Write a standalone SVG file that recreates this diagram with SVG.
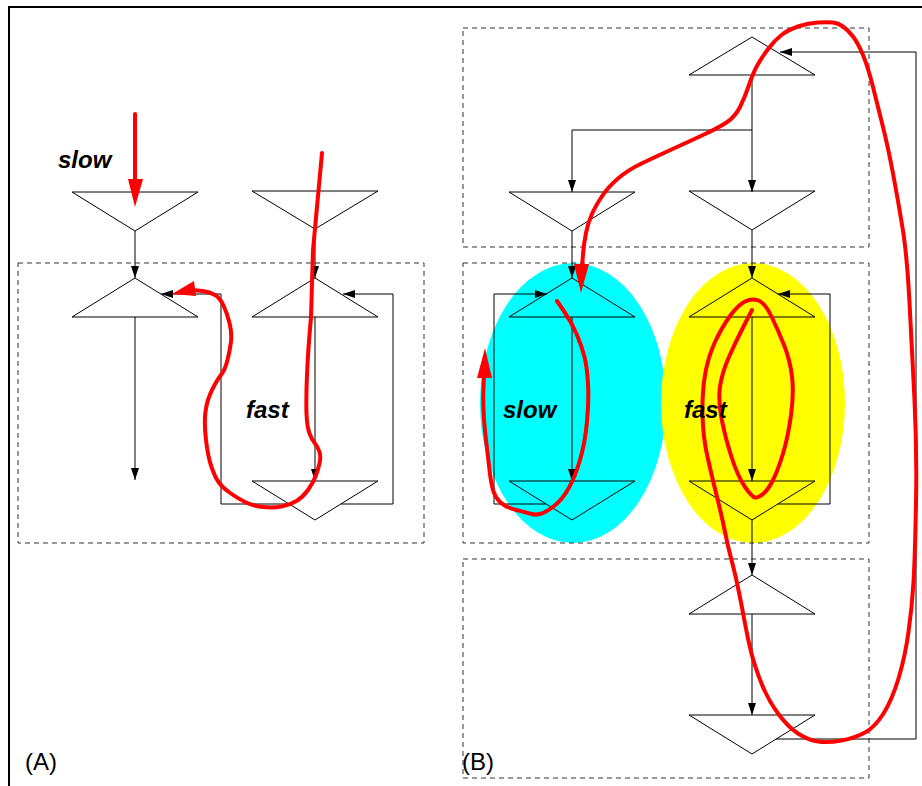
<svg xmlns="http://www.w3.org/2000/svg" width="922" height="786" viewBox="0 0 922 786">
<style>
.tri{fill:none;stroke:#000;stroke-width:1}
.box{fill:none;stroke:#333;stroke-width:1;stroke-dasharray:5,4}
.con{fill:none;stroke:#000;stroke-width:1}
.arr{marker-end:url(#ah)}
.red{fill:none;stroke:#ff0000;stroke-width:4;stroke-linejoin:round;stroke-linecap:round}
.redh{fill:#ff0000;stroke:none}
.lbl{font-family:"Liberation Sans",Arial,sans-serif;font-size:24px;font-weight:bold;font-style:italic;fill:#000}
.cap{font-family:"Liberation Sans",Arial,sans-serif;font-size:24px;fill:#000}
</style>
<defs>
<marker id="ah" markerUnits="userSpaceOnUse" markerWidth="12" markerHeight="8" refX="12" refY="4" orient="auto">
<path d="M0,0 L12,4 L0,8 z" fill="#000"/>
</marker>
</defs>
<rect width="922" height="786" fill="#fff"/>
<path d="M9,786 V7 H922" fill="none" stroke="#000" stroke-width="2"/>

<g id="regions">
<ellipse cx="573" cy="403" rx="93" ry="140" fill="#00ffff"/>
<ellipse cx="753" cy="403" rx="92" ry="140" fill="#ffff00"/>
<rect class="box" x="18" y="263" width="406" height="280"/>
<rect class="box" x="463" y="28" width="406" height="219"/>
<rect class="box" x="463" y="263" width="406" height="280"/>
<rect class="box" x="463" y="559" width="406" height="219"/>
</g>

<g id="a-top-left"><polygon class="tri" points="72,192 198,192 135,231"/></g>
<g id="a-top-right"><polygon class="tri" points="252,191 378,191 315,229"/></g>
<g id="a-mid-left"><polygon class="tri" points="135,278 198,317 72,317"/></g>
<g id="a-mid-right"><polygon class="tri" points="315,278 378,317 252,317"/></g>
<g id="a-low-right"><polygon class="tri" points="252,481 378,481 315,520"/></g>

<g id="b-top"><polygon class="tri" points="752,37 815,75 689,75"/></g>
<g id="b-up-left"><polygon class="tri" points="509,192 635,192 572,231"/></g>
<g id="b-up-right"><polygon class="tri" points="689,191 815,191 752,230"/></g>
<g id="b-mid-left"><polygon class="tri" points="572,278 635,317 509,317"/></g>
<g id="b-mid-right"><polygon class="tri" points="752,278 815,317 689,317"/></g>
<g id="b-low-left"><polygon class="tri" points="509,481 635,481 572,520"/></g>
<g id="b-low-right"><polygon class="tri" points="689,481 815,481 752,520"/></g>
<g id="b-bot-up"><polygon class="tri" points="752,575 815,614 689,614"/></g>
<g id="b-bot-down"><polygon class="tri" points="689,715 815,715 752,754"/></g>

<g id="connectors">
<path class="con arr" d="M135,231 V278"/>
<path class="con arr" d="M315,229 V278"/>
<path class="con arr" d="M135,317 V480"/>
<path class="con arr" d="M315,317 V481"/>
<path class="con arr" d="M289,504 H221 V294 H161"/>
<path class="con arr" d="M341,504 H393 V294 H343"/>
<path class="con arr" d="M752,75 V192"/>
<path class="con arr" d="M752,130 H572 V192"/>
<path class="con arr" d="M572,231 V278"/>
<path class="con arr" d="M752,230 V278"/>
<path class="con arr" d="M572,317 V481"/>
<path class="con arr" d="M752,317 V481"/>
<path class="con arr" d="M546,504 H494 V294 H547"/>
<path class="con arr" d="M778,504 H830 V294 H778"/>
<path class="con arr" d="M752,520 V575"/>
<path class="con arr" d="M752,614 V715"/>
<path class="con arr" d="M776,739 H916 V52 H780"/>
</g>

<g id="flows">
<path class="red" d="M135,114 V182"/>
<polygon class="redh" points="128,179 143,179 135,207"/>
<path class="red" d="M322,153 L313,250 L312,283 L311,317 Q308,350 307,375 Q306,400 306.5,413.5 Q307,427 309.5,433.5 Q312,440 315,443.5 Q318,447 319.5,452 Q321,457 319.5,463.5 Q318,470 315.5,476.5 Q313,483 308,490 Q303,497 296.5,501 Q290,505 281.5,506.5 Q273,508 263,507 Q253,506 245,502 Q237,498 229.5,492.5 Q222,487 218.5,482 Q215,477 211.5,467 Q208,457 206,440 Q204,423 205.5,411.5 Q207,400 212,390 Q217,380 221,375 Q225,370 227.5,360 Q230,350 231,341.5 Q232,333 229.5,323 Q227,313 223.5,305.5 Q220,298 215,295 Q210,292 202.5,291 L192,290"/>
<polygon class="redh" points="172,294 194,281 196,296"/>
<path class="red" d="M557,301 L564.5,312 Q572,323 577,335 Q582,347 584.5,357 Q587,367 588,383.5 Q589,400 587,421.5 Q585,443 580,460 Q575,477 568.5,488.5 Q562,500 553.5,506.5 Q545,513 540,514 Q535,515 531.5,514 Q528,513 516.5,510 Q505,507 500,502 Q495,497 493,490 Q491,483 489.5,470 Q488,457 486,440 Q484,423 483.5,410 Q483,397 483.5,387 L484,374"/>
<polygon class="redh" points="485,348 477,378 492,378"/>
<path class="red" d="M752,310 L743.5,326.5 Q735,343 728.5,358 Q722,373 720,386.5 Q718,400 721.5,418.5 Q725,437 731.5,457 Q738,477 745,487 Q752,497 755,497.5 Q758,498 763,494 Q768,490 773,480 Q778,470 783,453.5 Q788,437 791,415 Q794,393 792,376.5 Q790,360 784,345 Q778,330 771.5,316.5 Q765,303 758.5,300.5 Q752,298 745,301.5 Q738,305 730,316 Q722,327 715,342 Q708,357 705,375 Q702,393 702.5,415 Q703,437 707.5,457 Q712,477 717,497 Q722,517 725,532 Q728,547 731.5,560 Q735,573 738.5,590 Q742,607 745,623.5 Q748,640 751.5,653.5 Q755,667 761.5,683.5 Q768,700 778,713.5 Q788,727 798,733.5 Q808,740 818,741.5 Q828,743 841.5,740.5 Q855,738 865,732.5 Q875,727 883.5,713.5 Q892,700 898.5,678.5 Q905,657 908.5,632 Q912,607 913.5,582 Q915,557 916,503.5 Q917,450 914.5,400 Q912,350 909.5,302.5 Q907,255 902.5,227.5 Q898,200 893,173.5 Q888,147 883,127 Q878,107 873,87 Q868,67 863,55 Q858,43 853,36.5 Q848,30 843,26.5 Q838,23 833,22.5 Q828,22 818,22.5 Q808,23 798,26.5 Q788,30 781.5,35 Q775,40 768.5,48.5 Q762,57 757.5,65 Q753,73 749,85 Q745,97 740,107 Q735,117 726.5,122.5 Q718,128 703,135 Q688,142 671.5,149.5 Q655,157 641.5,163.5 Q628,170 618,178.5 Q608,187 601.5,197 Q595,207 591.5,215 Q588,223 586,233 Q584,243 583,254 L582,268"/>
<polygon class="redh" points="581,293 574,264 589,264"/>
</g>

<g id="labels">
<text class="lbl" x="58" y="168">slow</text>
<text class="lbl" x="246" y="418">fast</text>
<text class="lbl" x="503" y="418">slow</text>
<text class="lbl" x="684" y="418">fast</text>
<text class="cap" x="25" y="770">(A)</text>
<text class="cap" x="462" y="770">(B)</text>
</g>
</svg>
